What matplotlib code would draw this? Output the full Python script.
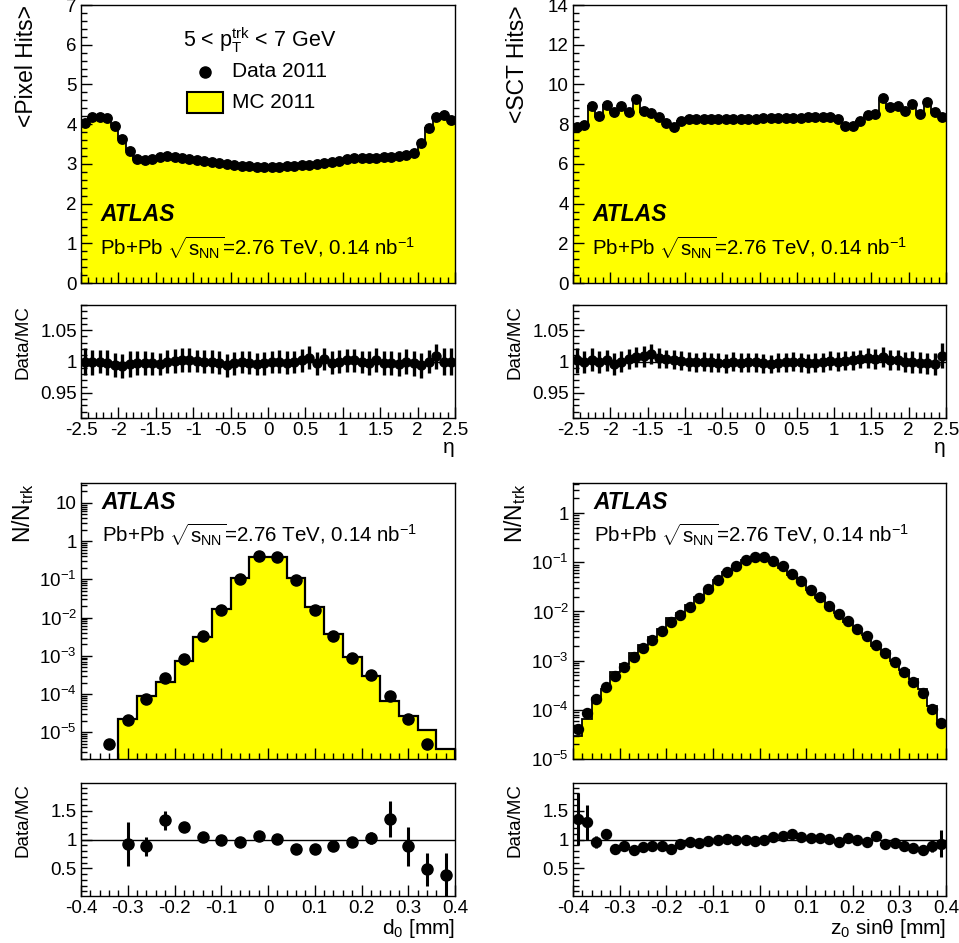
import numpy as np
import matplotlib
matplotlib.use('Agg')
import matplotlib.pyplot as plt
from matplotlib.ticker import MultipleLocator, FuncFormatter, LogLocator, NullFormatter, FormatStrFormatter
from matplotlib.patches import Rectangle

plt.rcParams['font.family'] = ['Liberation Sans', 'DejaVu Sans']
plt.rcParams['mathtext.fontset'] = 'custom'
plt.rcParams['mathtext.rm'] = 'Liberation Sans'
plt.rcParams['mathtext.it'] = 'Liberation Sans:italic'
plt.rcParams['mathtext.bf'] = 'Liberation Sans:bold'
plt.rcParams['mathtext.sf'] = 'Liberation Sans'
plt.rcParams['axes.unicode_minus'] = False

# ---------------- data ----------------
eta_edges = np.linspace(-2.5, 2.5, 51)

pixel_data = [4.02, 4.18, 4.19, 4.15, 3.95, 3.62, 3.33, 3.12, 3.10, 3.13,
              3.17, 3.19, 3.18, 3.16, 3.13, 3.10, 3.07, 3.04, 3.01, 2.99,
              2.97, 2.95, 2.94, 2.93, 2.93, 2.93, 2.93, 2.94, 2.95, 2.96,
              2.98, 3.00, 3.02, 3.05, 3.08, 3.12, 3.15, 3.16, 3.16, 3.16,
              3.17, 3.18, 3.20, 3.22, 3.28, 3.52, 3.90, 4.18, 4.23, 4.10]
pixel_mc = [4.02, 4.18, 4.19, 4.16, 3.97, 3.65, 3.34, 3.13, 3.11, 3.14,
            3.18, 3.19, 3.18, 3.15, 3.12, 3.10, 3.07, 3.04, 3.02, 3.01,
            2.98, 2.95, 2.95, 2.94, 2.94, 2.93, 2.93, 2.95, 2.95, 2.95,
            2.96, 3.01, 3.01, 3.06, 3.08, 3.11, 3.14, 3.16, 3.17, 3.15,
            3.18, 3.19, 3.21, 3.22, 3.29, 3.54, 3.90, 4.15, 4.23, 4.10]
pixel_ratio = [1.000, 0.999, 1.000, 0.998, 0.994, 0.993, 0.996, 0.998, 0.997, 0.997,
               0.996, 1.000, 1.001, 1.002, 1.003, 1.001, 1.000, 1.000, 0.998, 0.994,
               0.997, 0.999, 0.998, 0.996, 0.997, 0.999, 1.000, 0.998, 0.999, 1.002,
               1.006, 0.997, 1.004, 0.998, 1.000, 1.002, 1.002, 0.999, 0.998, 1.002,
               0.998, 0.997, 0.996, 1.000, 0.997, 0.994, 1.000, 1.008, 1.000, 1.000]
pixel_ratio_err = [0.022, 0.020, 0.019, 0.020, 0.019, 0.019, 0.020, 0.019, 0.019, 0.018,
                   0.018, 0.019, 0.019, 0.019, 0.019, 0.018, 0.019, 0.018, 0.018, 0.018,
                   0.018, 0.018, 0.018, 0.018, 0.018, 0.018, 0.018, 0.018, 0.018, 0.018,
                   0.018, 0.018, 0.018, 0.018, 0.018, 0.018, 0.018, 0.018, 0.019, 0.019,
                   0.019, 0.019, 0.019, 0.020, 0.020, 0.020, 0.019, 0.020, 0.021, 0.022]

sct_data = [7.87, 7.95, 8.93, 8.39, 8.97, 8.60, 8.90, 8.63, 9.27, 8.68,
            8.54, 8.34, 8.04, 7.88, 8.17, 8.25, 8.27, 8.28, 8.28, 8.28,
            8.27, 8.27, 8.27, 8.28, 8.28, 8.29, 8.29, 8.30, 8.31, 8.32,
            8.33, 8.34, 8.35, 8.37, 8.36, 8.28, 7.92, 7.93, 8.17, 8.46,
            8.51, 9.30, 8.85, 8.90, 8.68, 9.02, 8.51, 9.10, 8.60, 8.34]
sct_mc = [7.85, 7.96, 8.90, 8.40, 8.95, 8.63, 8.90, 8.60, 9.21, 8.61,
          8.44, 8.29, 8.01, 7.86, 8.16, 8.25, 8.28, 8.28, 8.29, 8.30,
          8.29, 8.27, 8.29, 8.29, 8.29, 8.31, 8.32, 8.32, 8.32, 8.32,
          8.34, 8.37, 8.37, 8.38, 8.35, 8.28, 7.91, 7.91, 8.14, 8.42,
          8.48, 9.24, 8.82, 8.88, 8.69, 9.03, 8.53, 9.13, 8.63, 8.27]
sct_ratio = [1.002, 0.999, 1.003, 0.999, 1.002, 0.996, 1.000, 1.004, 1.007, 1.008,
             1.012, 1.006, 1.004, 1.003, 1.001, 1.000, 0.999, 1.000, 0.999, 0.998,
             0.997, 1.000, 0.998, 0.999, 0.999, 0.997, 0.996, 0.998, 0.999, 1.000,
             0.999, 0.997, 0.998, 0.999, 1.001, 1.000, 1.001, 1.002, 1.004, 1.005,
             1.004, 1.007, 1.003, 1.002, 0.999, 0.999, 0.998, 0.997, 0.996, 1.009]
sct_ratio_err = [0.020, 0.018, 0.018, 0.017, 0.017, 0.017, 0.016, 0.016, 0.016, 0.016,
                 0.016, 0.016, 0.015, 0.015, 0.015, 0.015, 0.015, 0.015, 0.015, 0.015,
                 0.015, 0.015, 0.015, 0.015, 0.015, 0.015, 0.015, 0.015, 0.015, 0.015,
                 0.015, 0.015, 0.015, 0.015, 0.015, 0.015, 0.015, 0.015, 0.015, 0.016,
                 0.016, 0.016, 0.016, 0.016, 0.016, 0.017, 0.017, 0.017, 0.018, 0.020]

d0_edges = np.linspace(-0.4, 0.4, 21)
d0_data = [np.nan, 4.8e-6, 2.06e-5, 7.4e-5, 2.6e-4, 8.3e-4, 3.2e-3, 0.0155, 0.100, 0.40,
           0.39, 0.094, 0.0155, 3.3e-3, 8.7e-4, 3.07e-4, 8.7e-5, 2.23e-5, 4.8e-6, 1.4e-6]
d0_mc = [0.0, 0.0, 2.23e-5, 8.7e-5, 2.06e-4, 7.1e-4, 3.19e-3, 0.0172, 0.106, 0.39,
         0.39, 0.106, 0.019, 3.75e-3, 9.2e-4, 2.9e-4, 6.4e-5, 2.6e-5, 1.13e-5, 3.67e-6]
d0_ratio = [np.nan, np.nan, 0.92, 0.88, 1.33, 1.21, 1.05, 1.00, 0.95, 1.06,
            1.01, 0.84, 0.83, 0.89, 0.95, 1.03, 1.35, 0.88, 0.48, 0.38]
d0_ratio_err = [np.nan, np.nan, 0.38, 0.17, 0.17, 0.05, 0.03, 0.02, 0.02, 0.02,
                0.02, 0.02, 0.03, 0.03, 0.05, 0.10, 0.31, 0.34, 0.28, 0.38]

z0_edges = np.linspace(-0.4, 0.4, 41)
z0_data = [4.0e-5, 8.5e-5, 1.64e-4, 2.9e-4, 4.8e-4, 7.4e-4, 1.17e-3, 1.81e-3, 2.67e-3, 3.95e-3,
           6.0e-3, 8.6e-3, 0.0126, 0.0187, 0.0287, 0.043, 0.0627, 0.0856, 0.110, 0.126,
           0.126, 0.108, 0.083, 0.059, 0.041, 0.0278, 0.0194, 0.0131, 8.97e-3, 6.3e-3,
           4.45e-3, 3.1e-3, 2.1e-3, 1.43e-3, 9.4e-4, 5.8e-4, 3.7e-4, 2.2e-4, 1.03e-4, 5.5e-5]
z0_mc = [2.9e-5, 6.5e-5, 1.7e-4, 2.66e-4, 5.8e-4, 8.4e-4, 1.43e-3, 2.08e-3, 3.0e-3, 4.5e-3,
         7.2e-3, 9.3e-3, 0.0133, 0.0199, 0.0293, 0.043, 0.0621, 0.0856, 0.110, 0.1286,
         0.1273, 0.1038, 0.0783, 0.0541, 0.039, 0.0273, 0.0188, 0.0130, 9.3e-3, 6.2e-3,
         4.5e-3, 3.26e-3, 1.98e-3, 1.54e-3, 1.0e-3, 6.6e-4, 4.3e-4, 2.7e-4, 1.17e-4, 5.9e-5]
z0_ratio = [1.36, 1.30, 0.96, 1.09, 0.83, 0.88, 0.82, 0.87, 0.89, 0.88,
            0.83, 0.92, 0.95, 0.94, 0.98, 1.00, 1.01, 1.00, 1.00, 0.98,
            0.99, 1.04, 1.06, 1.09, 1.05, 1.02, 1.03, 1.01, 0.96, 1.02,
            0.99, 0.95, 1.06, 0.93, 0.94, 0.88, 0.86, 0.81, 0.88, 0.93]
z0_ratio_err = [0.45, 0.30, 0.10, 0.07, 0.05, 0.04, 0.03, 0.03, 0.02, 0.02,
                0.02, 0.02, 0.02, 0.02, 0.02, 0.02, 0.02, 0.02, 0.02, 0.02,
                0.02, 0.02, 0.02, 0.02, 0.02, 0.02, 0.02, 0.02, 0.02, 0.02,
                0.02, 0.02, 0.02, 0.03, 0.03, 0.04, 0.05, 0.06, 0.10, 0.23]

ATLAS_TXT = 'ATLAS'
LUMI_TXT = r'Pb+Pb $\sqrt{\mathrm{s}_{\mathrm{NN}}}$=2.76 TeV, 0.14 nb$^{\mathrm{-1}}$'

# ---------------- figure ----------------
W_PX, H_PX = 959, 943
fig = plt.figure(figsize=(W_PX / 100, H_PX / 100), dpi=100)


def rect(x0, y_top, x1, y_bot):
    return [x0 / W_PX, 1 - y_bot / H_PX, (x1 - x0) / W_PX, (y_bot - y_top) / H_PX]


ax_pix = fig.add_axes(rect(81, 5, 455, 283))
ax_pix_r = fig.add_axes(rect(81, 305, 455, 418))
ax_sct = fig.add_axes(rect(573, 5, 946, 283))
ax_sct_r = fig.add_axes(rect(573, 305, 946, 418))
ax_d0 = fig.add_axes(rect(81, 483, 455, 759))
ax_d0_r = fig.add_axes(rect(81, 783, 455, 896))
ax_z0 = fig.add_axes(rect(573, 483, 946, 759))
ax_z0_r = fig.add_axes(rect(573, 783, 946, 896))

TICK_FS = 13.5
LABEL_FS = 16.5


def style(ax):
    ax.tick_params(which='both', direction='in', top=False, right=False,
                   labelsize=TICK_FS, pad=3)
    ax.tick_params(which='major', length=8, width=1)
    ax.tick_params(which='minor', length=4, width=1)
    for s in ax.spines.values():
        s.set_linewidth(1.0)


def ylab(ax, txt, xfrac, fs=LABEL_FS):
    ax.set_ylabel(txt, fontsize=fs)
    ax.yaxis.set_label_coords(xfrac, 1.0)
    ax.yaxis.label.set(ha='right', va='center', rotation_mode='anchor')


def xlab(ax, txt, yfrac, fs=LABEL_FS):
    ax.set_xlabel(txt, fontsize=fs)
    ax.xaxis.set_label_coords(1.0, yfrac)
    ax.xaxis.label.set(ha='right', va='center')


def log_fmt(v, pos):
    e = int(round(np.log10(v)))
    if e == 0:
        return '1'
    if e == 1:
        return '10'
    return r'$\mathrm{10^{%d}}$' % e


YELLOW = '#ffff00'

# ---- eta panels ----
eta_centers = 0.5 * (eta_edges[1:] + eta_edges[:-1])
for ax, axr, data, mc, ratio, rerr, ymax, ymaj, ymin_, ylbl, lx in [
        (ax_pix, ax_pix_r, pixel_data, pixel_mc, pixel_ratio, pixel_ratio_err, 7, 1, 0.2, '<Pixel Hits>', -0.145),
        (ax_sct, ax_sct_r, sct_data, sct_mc, sct_ratio, sct_ratio_err, 14, 2, 0.4, '<SCT Hits>', -0.150)]:
    ax.stairs(mc, eta_edges, baseline=0, fill=True, facecolor=YELLOW, edgecolor='none')
    ax.stairs(mc, eta_edges, baseline=None, color='black', linewidth=1.3)
    ax.plot(eta_centers, data, 'o', color='black', ms=6.8)
    ax.set_xlim(-2.5, 2.5)
    ax.set_ylim(0, ymax)
    ax.xaxis.set_major_locator(MultipleLocator(0.5))
    ax.xaxis.set_minor_locator(MultipleLocator(0.1))
    ax.yaxis.set_major_locator(MultipleLocator(ymaj))
    ax.yaxis.set_minor_locator(MultipleLocator(ymin_))
    ax.yaxis.set_major_formatter(FormatStrFormatter('%g'))
    ax.tick_params(labelbottom=False)
    style(ax)
    ylab(ax, ylbl, lx)

    axr.axhline(1.0, color='black', lw=1.0)
    axr.errorbar(eta_centers, ratio, xerr=0.05, yerr=rerr, fmt='o', color='black',
                 ms=6.5, elinewidth=2.4, capsize=0)
    axr.set_xlim(-2.5, 2.5)
    axr.set_ylim(0.91, 1.09)
    axr.xaxis.set_major_locator(MultipleLocator(0.5))
    axr.xaxis.set_minor_locator(MultipleLocator(0.1))
    axr.yaxis.set_major_locator(MultipleLocator(0.05))
    axr.yaxis.set_minor_locator(MultipleLocator(0.01))
    axr.xaxis.set_major_formatter(FormatStrFormatter('%g'))
    axr.yaxis.set_major_formatter(FormatStrFormatter('%g'))
    style(axr)
    ylab(axr, 'Data/MC', -0.155, fs=13.5)
    xlab(axr, 'η', -0.26, fs=15)

# legend-like annotations (top-left)
ax_pix.text(0.273, 0.874, r'5 < p$_{\mathrm{T}}^{\mathrm{trk}}$ < 7 GeV', transform=ax_pix.transAxes,
            fontsize=15.5, ha='left', va='center')
ax_pix.plot([0.332], [0.759], 'o', color='black', ms=8, transform=ax_pix.transAxes, clip_on=False)
ax_pix.text(0.404, 0.759, 'Data 2011', transform=ax_pix.transAxes, fontsize=15, ha='left', va='center')
ax_pix.add_patch(Rectangle((0.283, 0.612), 0.097, 0.075, transform=ax_pix.transAxes,
                           facecolor=YELLOW, edgecolor='black', linewidth=1.5))
ax_pix.text(0.404, 0.651, 'MC 2011', transform=ax_pix.transAxes, fontsize=15, ha='left', va='center')

for ax in (ax_pix, ax_sct):
    ax.text(0.052, 0.245, ATLAS_TXT, transform=ax.transAxes, fontsize=16.5,
            fontweight='bold', fontstyle='italic', ha='left', va='center')
    ax.text(0.052, 0.129, LUMI_TXT, transform=ax.transAxes, fontsize=14.8, ha='left', va='center')

# ---- d0 panel ----
d0_centers = 0.5 * (d0_edges[1:] + d0_edges[:-1])
ax_d0.stairs(d0_mc, d0_edges, baseline=0, fill=True, facecolor=YELLOW, edgecolor='black', linewidth=1.6)
ax_d0.plot(d0_centers, d0_data, 'o', color='black', ms=8)
ax_d0.set_yscale('log')
ax_d0.set_xlim(-0.4, 0.4)
ax_d0.set_ylim(2.0e-6, 33)

ax_d0_r.axhline(1.0, color='black', lw=1.0)
ax_d0_r.errorbar(d0_centers, d0_ratio, yerr=d0_ratio_err, fmt='o', color='black',
                 ms=8, elinewidth=2.2, capsize=0)
ax_d0_r.set_xlim(-0.4, 0.4)

# ---- z0 panel ----
z0_centers = 0.5 * (z0_edges[1:] + z0_edges[:-1])
ax_z0.stairs(z0_mc, z0_edges, baseline=0, fill=True, facecolor=YELLOW, edgecolor='none')
ax_z0.stairs(z0_mc, z0_edges, baseline=None, color='black', linewidth=1.3)
ax_z0.plot(z0_centers, z0_data, 'o', color='black', ms=7.2)
ax_z0.set_yscale('log')
ax_z0.set_xlim(-0.4, 0.4)
ax_z0.set_ylim(1e-5, 4.1)

ax_z0_r.axhline(1.0, color='black', lw=1.0)
ax_z0_r.errorbar(z0_centers, z0_ratio, yerr=z0_ratio_err, fmt='o', color='black',
                 ms=7.2, elinewidth=2.2, capsize=0)
ax_z0_r.set_xlim(-0.4, 0.4)

for ax in (ax_d0, ax_z0):
    ax.yaxis.set_major_locator(LogLocator(base=10, numticks=20))
    ax.yaxis.set_minor_locator(LogLocator(base=10, subs=np.arange(2, 10), numticks=200))
    ax.yaxis.set_major_formatter(FuncFormatter(log_fmt))
    ax.yaxis.set_minor_formatter(NullFormatter())
    ax.xaxis.set_major_locator(MultipleLocator(0.1))
    ax.xaxis.set_minor_locator(MultipleLocator(0.02))
    ax.tick_params(labelbottom=False)
    style(ax)
    ylab(ax, r'N/N$_{\mathrm{trk}}$', -0.155)
    ax.text(0.056, 0.931, ATLAS_TXT, transform=ax.transAxes, fontsize=16.5,
            fontweight='bold', fontstyle='italic', ha='left', va='center')
    ax.text(0.056, 0.812, LUMI_TXT, transform=ax.transAxes, fontsize=14.8, ha='left', va='center')

for axr, lbl in ((ax_d0_r, 'd$_{\\mathrm{0}}$ [mm]'), (ax_z0_r, 'z$_{\\mathrm{0}}$ sinθ [mm]')):
    axr.set_ylim(0.02, 1.98)
    axr.xaxis.set_major_locator(MultipleLocator(0.1))
    axr.xaxis.set_minor_locator(MultipleLocator(0.02))
    axr.yaxis.set_major_locator(MultipleLocator(0.5))
    axr.yaxis.set_minor_locator(MultipleLocator(0.1))
    axr.xaxis.set_major_formatter(FormatStrFormatter('%g'))
    axr.yaxis.set_major_formatter(FormatStrFormatter('%g'))
    style(axr)
    ylab(axr, 'Data/MC', -0.155, fs=13.5)
    xlab(axr, lbl, -0.285, fs=15)

fig.savefig('out.png', dpi=100)
